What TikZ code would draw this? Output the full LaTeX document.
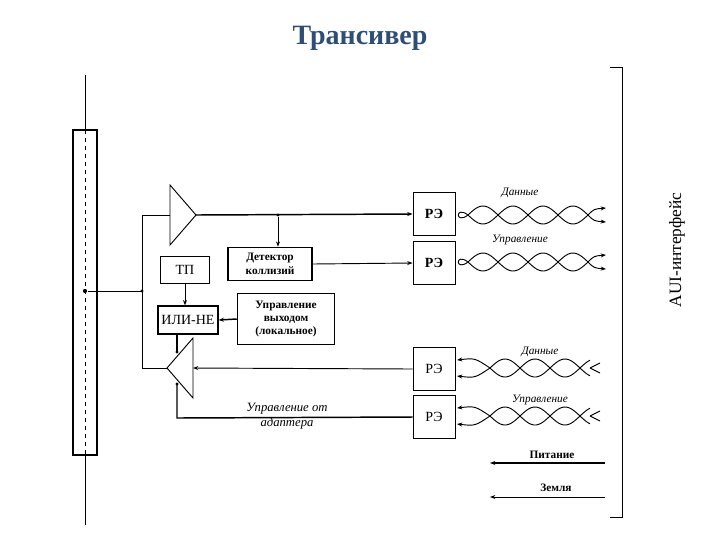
\documentclass[tikz,border=0pt]{standalone}
\usepackage{fontspec}
\setmainfont{Liberation Serif}
\usetikzlibrary{arrows.meta}
\definecolor{titleblue}{HTML}{2E4E74}
\begin{document}
\begin{tikzpicture}[x=0.75pt,y=-0.75pt,line width=0.7pt,
  box/.style={draw,line width=0.9pt,inner sep=1pt,align=center,font=\bfseries\fontsize{8.5}{10}\selectfont},
  re/.style={draw,minimum width=31.5pt,minimum height=32pt,font=\fontsize{10.5}{11}\selectfont},
  lbl/.style={font=\itshape\fontsize{8.5}{9}\selectfont},
  arr/.style={-{Stealth[length=4pt,width=3pt]}},
  dot/.style={circle,fill,inner sep=1.1pt}]
\useasboundingbox (0,0) rectangle (720,540);
\node[font=\bfseries\fontsize{21}{24}\selectfont,text=titleblue] (title) at (360,38) {Трансивер};
% cable
\draw[line width=1.2pt] (73,130) rectangle (97,455);
\draw (85,75) -- (85,130) (85,455) -- (85,525);
\draw[dashed] (85,130) -- (85,455);
\node[dot] (tap) at (85,291) {};
\coordinate (j) at (142,291);
\draw (tap) -- (j);
\node[dot,inner sep=0.9pt] at (j) {};
% top amp
\draw (170,185) -- (170,245) -- (196,215) -- cycle;
\coordinate (tip1) at (196,215);
\draw (j) |- (170,215);
% bottom amp
\draw (193,338) -- (193,398) -- (167,368) -- cycle;
\draw (j) |- (167,368);
% RE boxes
\node[re] (re1) at (434,214) {\bfseries РЭ};
\node[re] (re2) at (434,263) {\bfseries РЭ};
\node[re] (re3) at (434,369) {РЭ};
\node[re] (re4) at (434,417) {РЭ};
\draw[line width=1.1pt,arr] (tip1) -- (re1.west);
\node[dot,inner sep=0.9pt] (d1) at (278,215) {};
\node[box,minimum width=63pt,minimum height=25pt] (det) at (270,264) {Детектор\\коллизий};
\draw[arr] (d1) -- (det.north -| d1);
\draw[arr] (det.east) -- (re2.west);
\node[box,minimum width=37pt,minimum height=20pt,font=\fontsize{10.5}{11}\selectfont] (tp) at (185,270) {ТП};
\node[box,minimum width=45pt,minimum height=21pt,font=\fontsize{10.5}{11}\selectfont] (ornot) at (188,320) {ИЛИ-НЕ};
\draw[arr] (tp.south) -- (ornot.north -| tp.south);
\node[box,minimum width=73pt,minimum height=38pt] (ctl) at (286,319) {Управление\\выходом\\(локальное)};
\draw[line width=1.1pt,arr] (ctl.west) -- (ornot.east);
\draw[line width=1.1pt] (177,333) -- (177,352);
\node[dot,inner sep=0.9pt] at (177,352) {};
\draw[line width=1.1pt] (177,384) -- (177,418) -- (re4.west);
\node[dot,inner sep=0.9pt] at (177,384) {};
\draw[arr] (re3.west) -- (193,368);
\node[align=center,font=\itshape\fontsize{9.5}{11}\selectfont] (adapt) at (287,416) {Управление от\\адаптера};
% twisted pairs
\foreach \c/\t [count=\i] in {215/Данные,262/Управление}{
  \draw[domain=468:588,samples=60,smooth] plot (\x,{\c+9*sin((\x-468)*6)});
  \draw[domain=468:588,samples=60,smooth] plot (\x,{\c-9*sin((\x-468)*6)});
  \draw (468,\c) .. controls (455,\c-10) and (455,\c+10) .. (468,\c);
  \draw[arr] (588,\c) .. controls (594,\c-6) .. (606,\c-7);
  \draw[arr] (588,\c) .. controls (594,\c+6) .. (606,\c+7);
  \node[lbl] (tw\i) at (520,\c-22) {\t};
}
\foreach \c/\t [count=\i] in {368/Данные,416/Управление}{
  \draw[domain=490:590,samples=60,smooth] plot (\x,{\c+9*sin((\x-490)*6)});
  \draw[domain=490:590,samples=60,smooth] plot (\x,{\c-9*sin((\x-490)*6)});
  \draw[arr] (490,\c) .. controls (475,\c-10) .. (457,\c-8);
  \draw[arr] (490,\c) .. controls (475,\c+10) .. (457,\c+8);
  \draw (590,\c) -- (600,\c-5) (590,\c) -- (600,\c+5);
  \node[lbl] (tb\i) at (540,\c-16) {\t};
}
% power / ground
\coordinate (p1) at (605,463); \coordinate (p2) at (490,463);
\draw[line width=1.6pt,arr] (p1) -- (p2);
\node[box,draw=none] (pit) at (552,455) {Питание};
\coordinate (g1) at (605,497); \coordinate (g2) at (490,497);
\draw[arr] (g1) -- (g2);
\node[box,draw=none] (zem) at (556,488) {Земля};
% bracket
\draw (610,67) -- (622,67) -- (622,517) -- (610,517);
\node[rotate=90,font=\fontsize{13}{14}\selectfont] (aui) at (677,250) {AUI-интерфейс};
\end{tikzpicture}
\end{document}
